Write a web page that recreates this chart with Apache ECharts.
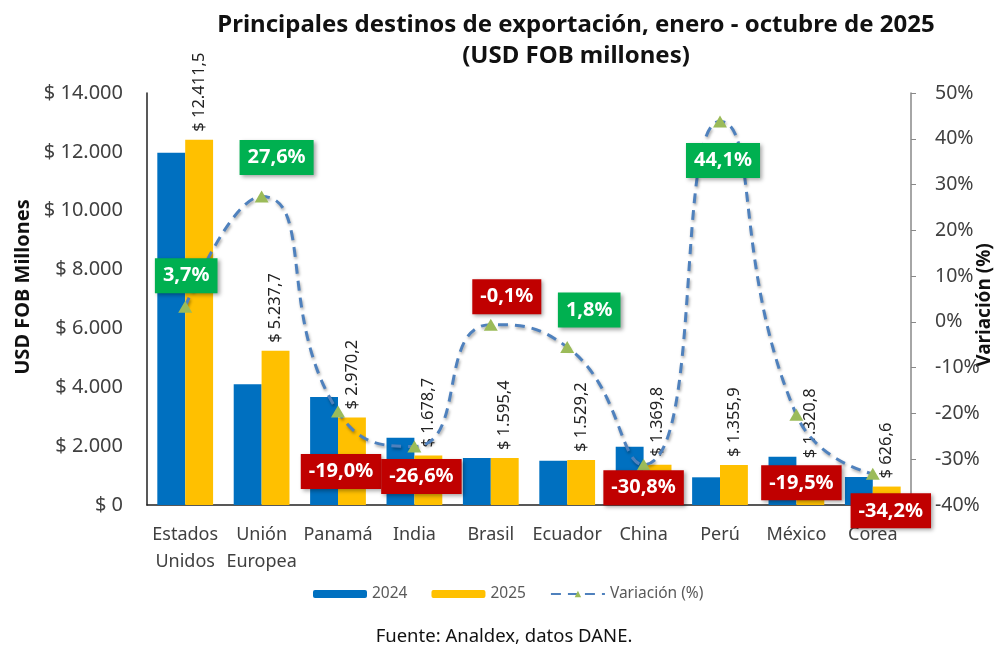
<!DOCTYPE html>
<html>
<head>
<meta charset="utf-8">
<script src="https://cdn.jsdelivr.net/npm/echarts@6/dist/echarts.min.js"></script>
<style>
  html, body { margin: 0; padding: 0; background: #fff; }
  #chart { width: 1003px; height: 648px; }
</style>
</head>
<body>
<div id="chart"></div>
<script>
// datos
var categorias = ["Estados\nUnidos", "Unión\nEuropea", "Panamá", "India", "Brasil", "Ecuador", "China", "Perú", "México", "Corea"];
var valores2024 = [11969, 4105, 3667, 2287, 1597, 1502, 1979, 941, 1641, 952];
var valores2025 = [12411.5, 5237.7, 2970.2, 1678.7, 1595.4, 1529.2, 1369.8, 1355.9, 1320.8, 626.6];
var variacion = [3.3, 27.4, -19.6, -27.2, -0.6, -5.5, -31.2, 43.8, -20.3, -33.2];
var etiquetasVar = ["3,7%", "27,6%", "-19,0%", "-26,6%", "-0,1%", "1,8%", "-30,8%", "44,1%", "-19,5%", "-34,2%"];
var ticksIzq = [0, 2000, 4000, 6000, 8000, 10000, 12000, 14000];

// desplazamiento de cada caja de variación (x, y) respecto al punto
var offsets = [[1, -31], [15, -39], [3, 60], [7, 30], [16, -28], [22, -37], [0, 23], [3, 39], [5, 68], [18, 37]];

var FONT = "Noto Sans";

function miles(v, dec) {
  var s = v.toFixed(dec).split(".");
  var ent = s[0].replace(/\B(?=(\d{3})+(?!\d))/g, ".");
  return dec ? ent + "," + s[1] : ent;
}

var datosVar = variacion.map(function (v, i) {
  var positivo = etiquetasVar[i].charAt(0) !== "-";
  return {
    value: v,
    label: {
      show: true,
      position: "inside",
      offset: offsets[i],
      formatter: etiquetasVar[i],
      backgroundColor: positivo ? "#00b050" : "#c00000",
      color: "#fff",
      fontFamily: FONT,
      fontWeight: "bold",
      fontSize: 20,
      lineHeight: 22,
      padding: [7, 8, 6, 8],
      shadowColor: "rgba(0,0,0,0.35)",
      shadowBlur: 4,
      shadowOffsetX: 2,
      shadowOffsetY: 2
    }
  };
});

var myChart = echarts.init(document.getElementById("chart"));
myChart.setOption({
  animation: false,
  title: {
    text: "Principales destinos de exportación, enero - octubre de 2025\n(USD FOB millones)",
    left: 571,
    top: 5,
    textAlign: "center",
    textStyle: {
      fontFamily: FONT,
      fontWeight: "bold",
      fontSize: 24,
      lineHeight: 31,
      color: "#111"
    }
  },
  grid: {
    left: 147,
    right: 92,
    top: 93,
    bottom: 143,
    outerBoundsMode: "none"
  },
  legend: {
    top: 586,
    left: 313,
    padding: 0,
    itemWidth: 54,
    itemHeight: 8,
    itemGap: 24,
    textStyle: { fontFamily: FONT, fontSize: 15.5, color: "#595959" },
    data: ["2024", "2025", "Variación (%)"]
  },
  graphic: [{
    type: "text",
    x: 504,
    y: 637,
    style: {
      text: "Fuente: Analdex, datos DANE.",
      font: "18.5px 'Noto Sans'",
      fill: "#111",
      align: "center",
      verticalAlign: "middle"
    }
  }],
  xAxis: {
    type: "category",
    data: categorias,
    axisLine: { lineStyle: { color: "#222", width: 1.5 } },
    axisTick: { show: false },
    axisLabel: {
      interval: 0,
      fontFamily: FONT,
      fontSize: 18,
      color: "#404040",
      lineHeight: 27,
      margin: 16
    }
  },
  yAxis: [{
    type: "value",
    min: ticksIzq[0],
    max: ticksIzq[ticksIzq.length - 1],
    interval: 2000,
    name: "USD FOB Millones",
    nameLocation: "middle",
    nameGap: 114,
    nameTextStyle: {
      fontFamily: FONT, fontWeight: "bold", fontSize: 20, color: "#111",
      padding: [0, 0, 0, 24]
    },
    axisLine: { show: true, lineStyle: { color: "#222", width: 1.5 } },
    axisTick: { show: false },
    splitLine: { show: false },
    axisLabel: {
      margin: 24,
      fontFamily: FONT,
      fontSize: 20,
      color: "#404040",
      formatter: function (v) { return "$ " + miles(v, 0); }
    }
  }, {
    type: "value",
    min: -40,
    max: 50,
    interval: 10,
    position: "right",
    name: "Variación (%)",
    nameLocation: "middle",
    nameGap: 64,
    nameRotate: 90,
    nameMoveOverlap: false,
    nameTextStyle: {
      fontFamily: FONT, fontWeight: "bold", fontSize: 19, color: "#111",
      padding: [0, 12, 0, 0]
    },
    axisLine: { show: true, lineStyle: { color: "#888", width: 1.5 } },
    axisTick: { show: true, inside: false, length: 5, lineStyle: { color: "#888" } },
    splitLine: { show: false },
    axisLabel: {
      margin: 24,
      fontFamily: FONT,
      fontSize: 19.5,
      color: "#404040",
      formatter: "{value}%"
    }
  }],
  series: [{
    name: "2024",
    type: "bar",
    data: valores2024,
    barGap: 0,
    barCategoryGap: "27%",
    itemStyle: { color: "#0070c0" }
  }, {
    name: "2025",
    type: "bar",
    data: valores2025,
    itemStyle: { color: "#ffc000" },
    label: {
      show: true,
      position: "top",
      rotate: 90,
      align: "left",
      verticalAlign: "middle",
      distance: 8,
      fontFamily: FONT,
      fontSize: 16.5,
      color: "#222",
      formatter: function (p) { return "$ " + miles(p.value, 1); }
    }
  }, {
    name: "Variación (%)",
    type: "line",
    yAxisIndex: 1,
    smooth: 0.55,
    data: datosVar,
    symbol: "triangle",
    symbolSize: [14, 12],
    z: 5,
    itemStyle: { color: "#9bbb59" },
    lineStyle: {
      color: "#4f81bd",
      width: 3,
      type: [10, 7],
      shadowColor: "rgba(0,0,0,0.35)",
      shadowBlur: 3,
      shadowOffsetX: 1,
      shadowOffsetY: 2
    }
  }]
});
</script>
</body>
</html>
